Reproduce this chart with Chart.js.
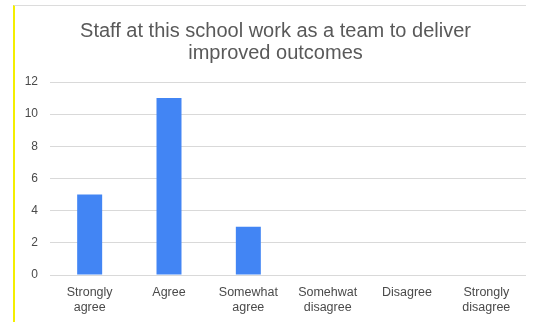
<!DOCTYPE html>
<html>
<head>
<meta charset="utf-8">
<script src="https://cdn.jsdelivr.net/npm/chart.js@4"></script>
<style>
    html, body { margin: 0; padding: 0; background: #fff; }
    #wrap { position: relative; width: 535px; height: 322px; }
    #frame {
        position: absolute; left: 13px; top: 5px; width: 513px; height: 317px;
        border-left: 2px solid #f4ee00; border-top: 1px solid #dcdcdc;
        box-sizing: border-box; pointer-events: none;
    }
    canvas { position: absolute; left: 0; top: 0; }
</style>
</head>
<body>
<div id="wrap">
    <canvas id="surveyChart" width="535" height="322"></canvas>
    <div id="frame"></div>
</div>
<script>
const titleLines = ['Staff at this school work as a team to deliver', 'improved outcomes'];
const categories = [
    ['Strongly', 'agree'],
    'Agree',
    ['Somewhat', 'agree'],
    ['Somehwat', 'disagree'],
    'Disagree',
    ['Strongly', 'disagree']
];
const responses = [5, 11, 3, 0, 0, 0];
const yMax = 12;
const yStep = 2;

const font = 'Arial, "Liberation Sans", sans-serif';

new Chart(document.getElementById('surveyChart'), {
    type: 'bar',
    data: {
        labels: categories,
        datasets: [{
            data: responses,
            backgroundColor: '#4285f4',
            borderWidth: 0,
            categoryPercentage: 1,
            barPercentage: 0.315
        }]
    },
    options: {
        responsive: false,
        animation: false,
        // left padding is wider so the title centres a little right of the canvas middle
        layout: { padding: { left: 25, right: 9, top: 5, bottom: 0 } },
        plugins: {
            legend: { display: false },
            tooltip: { enabled: false },
            title: {
                display: true,
                text: titleLines,
                color: '#595959',
                font: { family: font, size: 20, weight: 'normal', lineHeight: 1.1 },
                padding: { top: 15, bottom: 18 }
            }
        },
        scales: {
            x: {
                grid: { display: false, drawTicks: false },
                border: { display: false },
                ticks: {
                    color: '#4a4a4a',
                    font: { family: font, size: 12.5, lineHeight: 1.2 },
                    padding: 10,
                    maxRotation: 0,
                    autoSkip: false
                },
                afterFit: s => { s.height = 47; }
            },
            y: {
                min: 0,
                max: yMax,
                grid: { color: '#d9d9d9', lineWidth: 1, drawTicks: false },
                border: { display: false },
                ticks: {
                    stepSize: yStep,
                    color: '#4a4a4a',
                    font: { family: font, size: 12 },
                    padding: 12
                },
                afterFit: s => { s.width = 25; }
            }
        }
    }
});
</script>
</body>
</html>
